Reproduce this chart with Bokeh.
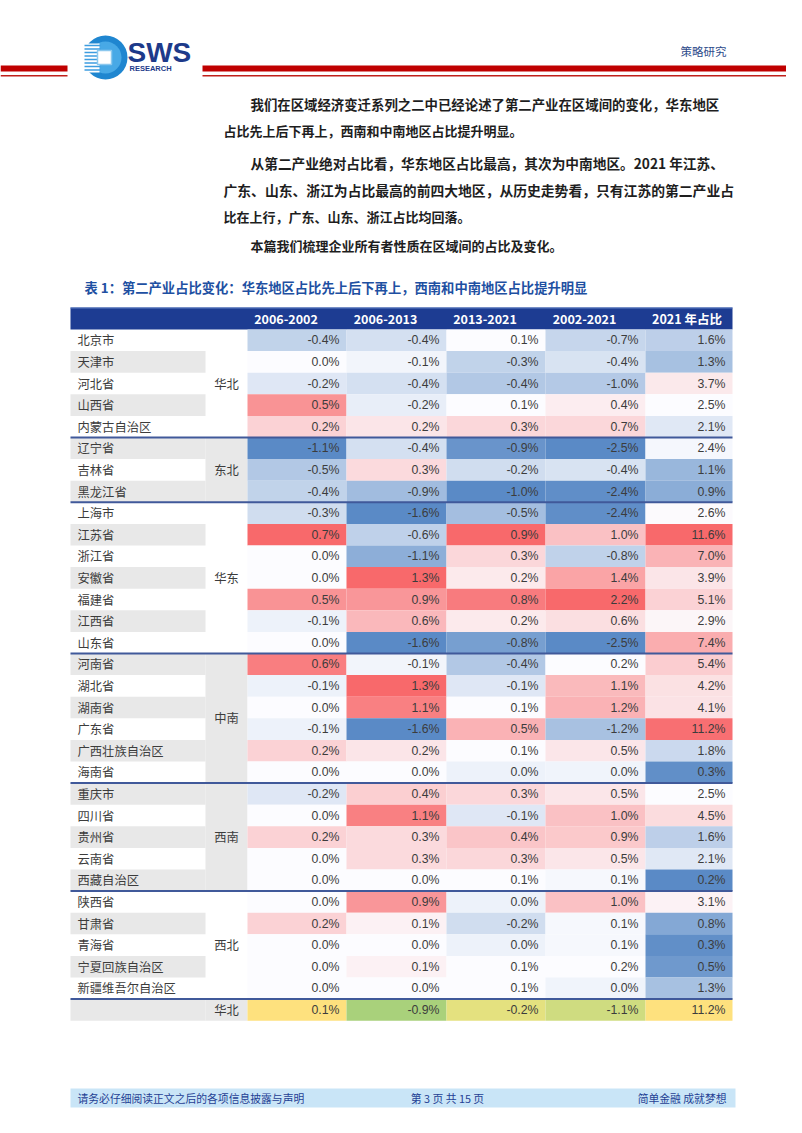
import numpy as np
from bokeh.plotting import figure
from bokeh.models import Range1d, ColumnDataSource
from bokeh.core.properties import value
from bokeh.embed import file_html
from bokeh.resources import INLINE

# ---------------- data ----------------
provinces = ["北京市", "天津市", "河北省", "山西省", "内蒙古自治区",
             "辽宁省", "吉林省", "黑龙江省",
             "上海市", "江苏省", "浙江省", "安徽省", "福建省", "江西省", "山东省",
             "河南省", "湖北省", "湖南省", "广东省", "广西壮族自治区", "海南省",
             "重庆市", "四川省", "贵州省", "云南省", "西藏自治区",
             "陕西省", "甘肃省", "青海省", "宁夏回族自治区", "新疆维吾尔自治区"]
regions = ["华北", "东北", "华东", "中南", "西南", "西北"]
region_sizes = [5, 3, 7, 6, 5, 5]
periods = ["2006-2002", "2006-2013", "2013-2021", "2002-2021", "2021 年占比"]

chg_2006_2002 = [-0.4, 0.0, -0.2, 0.5, 0.2, -1.1, -0.5, -0.4, -0.3, 0.7, 0.0, 0.0, 0.5, -0.1, 0.0,
                 0.6, -0.1, 0.0, -0.1, 0.2, 0.0, -0.2, 0.0, 0.2, 0.0, 0.0, 0.0, 0.2, 0.0, 0.0, 0.0]
chg_2006_2013 = [-0.4, -0.1, -0.4, -0.2, 0.2, -0.4, 0.3, -0.9, -1.6, -0.6, -1.1, 1.3, 0.9, 0.6, -1.6,
                 -0.1, 1.3, 1.1, -1.6, 0.2, 0.0, 0.4, 1.1, 0.3, 0.3, 0.0, 0.9, 0.1, 0.0, 0.1, 0.0]
chg_2013_2021 = [0.1, -0.3, -0.4, 0.1, 0.3, -0.9, -0.2, -1.0, -0.5, 0.9, 0.3, 0.2, 0.8, 0.2, -0.8,
                 -0.4, -0.1, 0.1, 0.5, 0.1, 0.0, 0.3, -0.1, 0.4, 0.3, 0.1, 0.0, -0.2, 0.0, 0.1, 0.1]
chg_2002_2021 = [-0.7, -0.4, -1.0, 0.4, 0.7, -2.5, -0.4, -2.4, -2.4, 1.0, -0.8, 1.4, 2.2, 0.6, -2.5,
                 0.2, 1.1, 1.2, -1.2, 0.5, 0.0, 0.5, 1.0, 0.9, 0.5, 0.1, 1.0, 0.1, 0.1, 0.2, 0.0]
share_2021 = [1.6, 1.3, 3.7, 2.5, 2.1, 2.4, 1.1, 0.9, 2.6, 11.6, 7.0, 3.9, 5.1, 2.9, 7.4,
              5.4, 4.2, 4.1, 11.2, 1.8, 0.3, 2.5, 4.5, 1.6, 2.1, 0.2, 3.1, 0.8, 0.3, 0.5, 1.3]
total_label = "华北"
total_values = [0.1, -0.9, -0.2, -1.1, 11.2]

# ---------------- styles ----------------
total_colors = ["#fee17e", "#a9d17b", "#e4e17f", "#cfdc80", "#fee17e"]
region_shaded = [False, True, False, True, True, False]
GRAY = "#e8e8e8"
LOW, MID, HIGH = "#5a8ac6", "#fcfcff", "#f8696b"
CJK = "Noto Sans CJK SC"

para_lines = [
    "我们在区域经济变迁系列之二中已经论述了第二产业在区域间的变化，华东地区",
    "占比先上后下再上，西南和中南地区占比提升明显。",
    "从第二产业绝对占比看，华东地区占比最高，其次为中南地区。2021 年江苏、",
    "广东、山东、浙江为占比最高的前四大地区，从历史走势看，只有江苏的第二产业占",
    "比在上行，广东、山东、浙江占比均回落。",
    "本篇我们梳理企业所有者性质在区域间的占比及变化。",
]
para_x = [250, 223, 250, 223, 223, 250]
para_y = [103, 130, 162, 189, 216, 245]
para_size = ["13.4px", "13px", "13.7px", "13.8px", "13px", "13px"]
title = "表 1：第二产业占比变化：华东地区占比先上后下再上，西南和中南地区占比提升明显"


def hex2rgb(h):
    h = h.lstrip("#")
    return np.array([int(h[i:i + 2], 16) for i in (0, 2, 4)], dtype=float)


def mix(a, b, t):
    c = hex2rgb(a) * (1 - t) + hex2rgb(b) * t
    return "#%02x%02x%02x" % tuple(int(round(v)) for v in c)


def scale_colors(vals):
    v = np.array(vals, dtype=float)
    lo, hi, mid = v.min(), v.max(), np.percentile(v, 50)
    out = []
    for x in v:
        if x <= mid:
            t = 0 if mid == lo else (mid - x) / (mid - lo)
            out.append(mix(MID, LOW, t))
        else:
            t = 0 if hi == mid else (x - mid) / (hi - mid)
            out.append(mix(MID, HIGH, t))
    return out


# ---------------- figure ----------------
W, H = 786, 1117
p = figure(width=W, height=H, x_range=Range1d(0, W), y_range=Range1d(H, 0),
           output_backend="svg", toolbar_location=None, x_axis_type=None, y_axis_type=None,
           min_border=0, outline_line_color=None, background_fill_color="white",
           border_fill_color="white")
p.grid.visible = False

# header decoration
p.quad(left=[0, 202], right=[67, 802], top=[65, 65], bottom=[71, 71],
       fill_color="#c00000", line_color=None)
p.quad(left=[0, 202], right=[67, 802], top=[74.5, 74.5], bottom=[76, 76],
       fill_color="#c0201a", line_color=None)
# logo
p.circle(x=[105], y=[57], radius=22, fill_color="#1f86d0", line_color=None)
p.circle(x=[105], y=[57], radius=16, fill_color="#48a9e6", line_color=None)
p.quad(left=[82], right=[99], top=[43], bottom=[72], fill_color="white", line_color=None)
p.segment(x0=[84] * 8, x1=[100] * 8, y0=[45 + 3.5 * i for i in range(8)],
          y1=[45 + 3.5 * i for i in range(8)], line_color="#3d9de0", line_width=1.7)
p.quad(left=[97], right=[111], top=[50], bottom=[64], fill_color="white",
       line_color="#8cc8ee", line_width=1.5)
p.text(x=[127], y=[52], text=["SWS"], text_font=value("Liberation Sans"),
       text_font_style="bold", text_font_size="28px", text_color="#1d3a8a",
       text_baseline="middle")
p.text(x=[129], y=[67.5], text=["RESEARCH"], text_font=value("Liberation Sans"),
       text_font_style="bold", text_font_size="7.5px", text_color="#1d3a8a",
       text_baseline="middle")
p.text(x=[726], y=[50], text=["策略研究"], text_font=value(CJK), text_font_size="11.5px",
       text_color="#2d4b8b", text_align="right", text_baseline="middle")

# paragraphs
for t, x, y, s in zip(para_lines, para_x, para_y, para_size):
    p.text(x=[x], y=[y], text=[t], text_font=value(CJK), text_font_style="bold",
           text_font_size=s, text_color="#1e1e1e", text_baseline="middle")

p.text(x=[84], y=[287], text=[title], text_font=value(CJK), text_font_style="bold",
       text_font_size="13.3px", text_color="#1e50a2", text_baseline="middle")

# ---------------- table ----------------
TL, NAME_R, GROUP_R, TR = 70, 205, 247, 732
col_edges = [247, 346, 446, 545, 645, 732]
HEAD_T, ROW0, RH = 307, 329, 21.6

p.quad(left=[TL], right=[TR], top=[HEAD_T], bottom=[ROW0], fill_color="#1d3c92",
       line_color=None)
p.segment(x0=[TL], x1=[TR], y0=[HEAD_T + 0.5], y1=[HEAD_T + 0.5], line_color="#5f7fc4",
          line_width=1)
hx = [(col_edges[i] + col_edges[i + 1]) / 2 - (11 if i < 4 else 2) for i in range(5)]
p.text(x=hx, y=[(HEAD_T + ROW0) / 2] * 5, text=periods, text_font=value(CJK),
       text_font_style="bold", text_font_size="12.5px", text_color="white",
       text_align="center", text_baseline="middle")

n = len(provinces)
rows_all = n + 1
cols_data = [chg_2006_2002, chg_2006_2013, chg_2013_2021, chg_2002_2021, share_2021]
col_colors = [scale_colors(c) for c in cols_data]

# name column shading
name_src = dict(left=[], right=[], top=[], bottom=[])
for i in range(rows_all):
    if i % 2 == 1:
        name_src["left"].append(TL)
        name_src["right"].append(NAME_R)
        name_src["top"].append(ROW0 + i * RH)
        name_src["bottom"].append(ROW0 + (i + 1) * RH)
p.quad(source=ColumnDataSource(name_src), left="left", right="right", top="top",
       bottom="bottom", fill_color=GRAY, line_color=None)

# group column shading + labels
starts = np.cumsum([0] + region_sizes[:-1])
g_src = dict(left=[], right=[], top=[], bottom=[])
for s, k, sh in zip(starts, region_sizes, region_shaded):
    if sh:
        g_src["left"].append(NAME_R)
        g_src["right"].append(GROUP_R)
        g_src["top"].append(ROW0 + s * RH)
        g_src["bottom"].append(ROW0 + (s + k) * RH)
g_src["left"].append(NAME_R)
g_src["right"].append(GROUP_R)
g_src["top"].append(ROW0 + n * RH)
g_src["bottom"].append(ROW0 + (n + 1) * RH)
p.quad(source=ColumnDataSource(g_src), left="left", right="right", top="top",
       bottom="bottom", fill_color=GRAY, line_color=None)

# value cells
c_src = dict(left=[], right=[], top=[], bottom=[], color=[], tx=[], ty=[], label=[])
for j in range(5):
    vals = cols_data[j] + [total_values[j]]
    cols = col_colors[j] + [total_colors[j]]
    for i, (v, c) in enumerate(zip(vals, cols)):
        c_src["left"].append(col_edges[j])
        c_src["right"].append(col_edges[j + 1])
        c_src["top"].append(ROW0 + i * RH)
        c_src["bottom"].append(ROW0 + (i + 1) * RH)
        c_src["color"].append(c)
        c_src["tx"].append(col_edges[j + 1] - 7)
        c_src["ty"].append(ROW0 + (i + 0.5) * RH)
        c_src["label"].append(f"{v:.1f}%")
cs = ColumnDataSource(c_src)
p.quad(source=cs, left="left", right="right", top="top", bottom="bottom",
       fill_color="color", line_color=None)
p.text(source=cs, x="tx", y="ty", text="label", text_font=value("Liberation Sans"),
       text_font_size="12.3px", text_color="#3c3c3c", text_align="right",
       text_baseline="middle")

# names
p.text(x=[77] * n, y=[ROW0 + (i + 0.5) * RH for i in range(n)], text=provinces,
       text_font=value(CJK), text_font_size="12.3px", text_color="#3c3c3c",
       text_baseline="middle")
gy = [ROW0 + (s + k / 2) * RH for s, k in zip(starts, region_sizes)] + [ROW0 + (n + 0.5) * RH]
p.text(x=[226] * (len(regions) + 1), y=gy, text=regions + [total_label],
       text_font=value(CJK), text_font_size="12.3px", text_color="#3c3c3c",
       text_align="center", text_baseline="middle")

# group separators
sep_y = [ROW0 + int(e) * RH for e in np.cumsum(region_sizes)]
p.segment(x0=[TL] * len(sep_y), x1=[TR] * len(sep_y), y0=sep_y, y1=sep_y,
          line_color="#40599a", line_width=2)

# footer
p.quad(left=[70], right=[735], top=[1088], bottom=[1107], fill_color="#c9e5f7",
       line_color=None)
p.text(x=[77], y=[1097.5], text=["请务必仔细阅读正文之后的各项信息披露与声明"],
       text_font=value(CJK), text_font_size="10.8px", text_color="#1f3f94",
       text_baseline="middle")
p.text(x=[447], y=[1097.5], text=["第 3 页 共 15 页"], text_font=value(CJK),
       text_font_size="10.8px", text_color="#1f3f94", text_align="center",
       text_baseline="middle")
p.text(x=[726], y=[1097.5], text=["简单金融 成就梦想"], text_font=value(CJK),
       text_font_size="10.8px", text_color="#1f3f94", text_align="right",
       text_baseline="middle")

open("out.html", "w").write(file_html(p, INLINE))
